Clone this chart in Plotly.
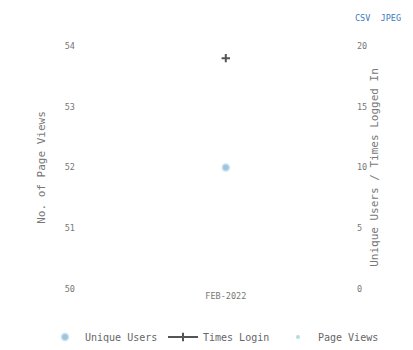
import plotly.graph_objects as go

months = ["FEB-2022"]
page_views = [52]
unique_users = [10]
times_login = [19]

mono = "DejaVu Sans Mono"

fig = go.Figure()
fig.add_trace(go.Scatter(x=months, y=unique_users, name="Unique Users", yaxis="y2",
                         mode="markers", legend="legend",
                         marker=dict(symbol="circle", size=7, color="#9cc3e0",
                                     line=dict(width=1.5, color="#c8e0f0"))))
fig.add_trace(go.Scatter(x=months, y=times_login, name="Times Login", yaxis="y2",
                         mode="lines+markers", legend="legend2", line=dict(color="#555555", width=2),
                         marker=dict(symbol="cross-thin", size=6, line=dict(width=2, color="#555555"))))
fig.add_trace(go.Scatter(x=months, y=page_views, name="Page Views",
                         mode="markers", legend="legend3", marker=dict(size=4, color="#b0dde0")))

tick_font = dict(family=mono, size=8.5, color="#777777")
title_font = dict(family=mono, size=11, color="#777777")
leg_font = dict(family=mono, size=10, color="#666666")


def leg(x):
    return dict(orientation="h", xref="container", yref="container", x=x, xanchor="left",
                y=0.06, yanchor="middle", itemwidth=30, font=leg_font)


fig.update_layout(
    width=413, height=350,
    margin=dict(l=68, r=65, t=38, b=69, autoexpand=False),
    plot_bgcolor="white", paper_bgcolor="white",
    font=tick_font,
    showlegend=True,
    legend=leg(37 / 413), legend2=leg(155 / 413), legend3=leg(270 / 413),
    xaxis=dict(type="category", range=[-0.535, 0.465], showgrid=False, zeroline=False,
               ticks="", tickfont=tick_font),
    yaxis=dict(title=dict(text="No. of Page Views", font=title_font, standoff=16),
               range=[50, 54], dtick=1, showgrid=False, zeroline=False, tickfont=tick_font),
    yaxis2=dict(title=dict(text="Unique Users / Times Logged In", font=title_font, standoff=4),
                overlaying="y", side="right", range=[0, 20], dtick=5,
                showgrid=False, zeroline=False, tickfont=tick_font),
    annotations=[dict(text="CSV  JPEG", xref="paper", yref="paper", x=1.168, y=1.144,
                      xanchor="right", yanchor="top", showarrow=False,
                      font=dict(family=mono, size=8.5, color="#3a7bbf"))],
)

fig.write_html("out.html")
